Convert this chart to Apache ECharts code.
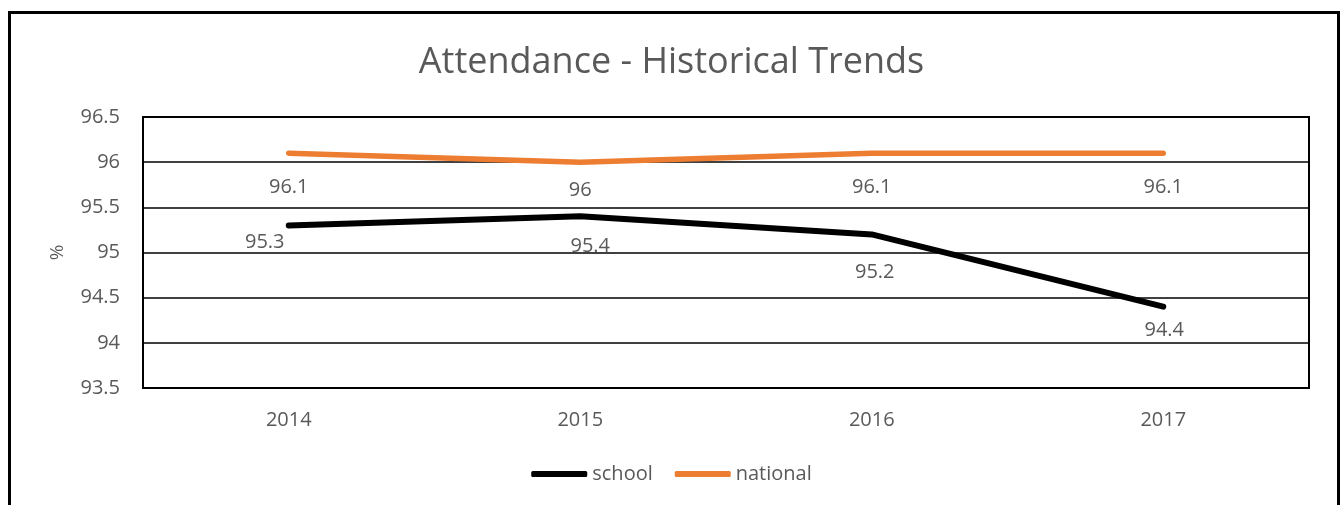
<!DOCTYPE html>
<html>
<head>
<meta charset="utf-8">
<script src="https://cdn.jsdelivr.net/npm/echarts@6/dist/echarts.min.js"></script>
<style>
  html, body { margin: 0; padding: 0; background: #fff; }
  #box { width: 1343px; height: 505px; }
  #frame { position: absolute; left: 8px; top: 11px; width: 1326px; height: 520px; border: 3px solid #000; pointer-events: none; }
</style>
</head>
<body>
<div id="box"></div>
<div id="frame"></div>
<script>
// 数据
var years = ['2014', '2015', '2016', '2017'];
var school = [95.3, 95.4, 95.2, 94.4];
var national = [96.1, 96, 96.1, 96.1];

var myChart = echarts.init(document.getElementById('box'));
var font = 'Open Sans';
var grey = '#595959';

// 标签位置 (Excel里有点偏移)
var schoolOffsets = [[-24, 6], [10, 19], [3, 27], [1, 13]];
var nationalOffsets = [[0, 2], [0, -4], [0, 2], [0, 2]];
var schoolData = school.map(function (v, i) {
    return { value: v, label: { offset: schoolOffsets[i] } };
});
var nationalData = national.map(function (v, i) {
    return { value: v, label: { offset: nationalOffsets[i] } };
});

var option = {
    animation: false,
    title: {
        text: 'Attendance - Historical Trends',
        left: 'center',
        top: 40,
        textStyle: { fontFamily: font, fontWeight: 'normal', fontSize: 36, color: grey }
    },
    legend: {
        bottom: 16,
        left: 'center',
        itemWidth: 56,
        itemHeight: 6,
        itemGap: 22,
        icon: 'roundRect',
        textStyle: { fontFamily: font, fontSize: 20, color: grey, padding: [0, 0, 0, 0] },
        data: ['school', 'national']
    },
    grid: { left: 143, right: 34, top: 117, bottom: 117 },
    xAxis: {
        type: 'category',
        data: years,
        boundaryGap: true,
        axisLine: { show: false },
        axisTick: { show: false },
        axisLabel: { fontFamily: font, fontSize: 20, color: grey, margin: 22 }
    },
    yAxis: {
        type: 'value',
        min: 93.5,
        max: 96.5,
        interval: 0.5,
        name: '%',
        nameLocation: 'middle',
        nameGap: 76,
        nameRotate: 90,
        nameTextStyle: { fontFamily: font, fontSize: 19, color: grey },
        axisLine: { show: false },
        axisTick: { show: false },
        axisLabel: { fontFamily: font, fontSize: 20, color: grey, margin: 23 },
        splitLine: { lineStyle: { color: '#000', width: 1.5 } }
    },
    series: [
        {
            name: 'school',
            type: 'line',
            data: schoolData,
            symbol: 'circle',
            symbolSize: 1,
            lineStyle: { color: '#000', width: 6, cap: 'round' },
            itemStyle: { color: '#000' },
            label: {
                show: true, position: 'bottom', distance: 0,
                fontFamily: font, fontSize: 20, color: grey
            }
        },
        {
            name: 'national',
            type: 'line',
            data: nationalData,
            symbol: 'circle',
            symbolSize: 1,
            lineStyle: { color: '#ED7D31', width: 5.5, cap: 'round' },
            itemStyle: { color: '#ED7D31' },
            label: {
                show: true, position: 'bottom', distance: 22,
                fontFamily: font, fontSize: 20, color: grey
            }
        }
    ],
    graphic: [
        // 绘图区边框
        {
            type: 'rect',
            shape: { x: 143, y: 117, width: 1166, height: 271 },
            style: { fill: 'none', stroke: '#000', lineWidth: 2 },
            silent: true
        }
    ]
};
myChart.setOption(option);
</script>
</body>
</html>
